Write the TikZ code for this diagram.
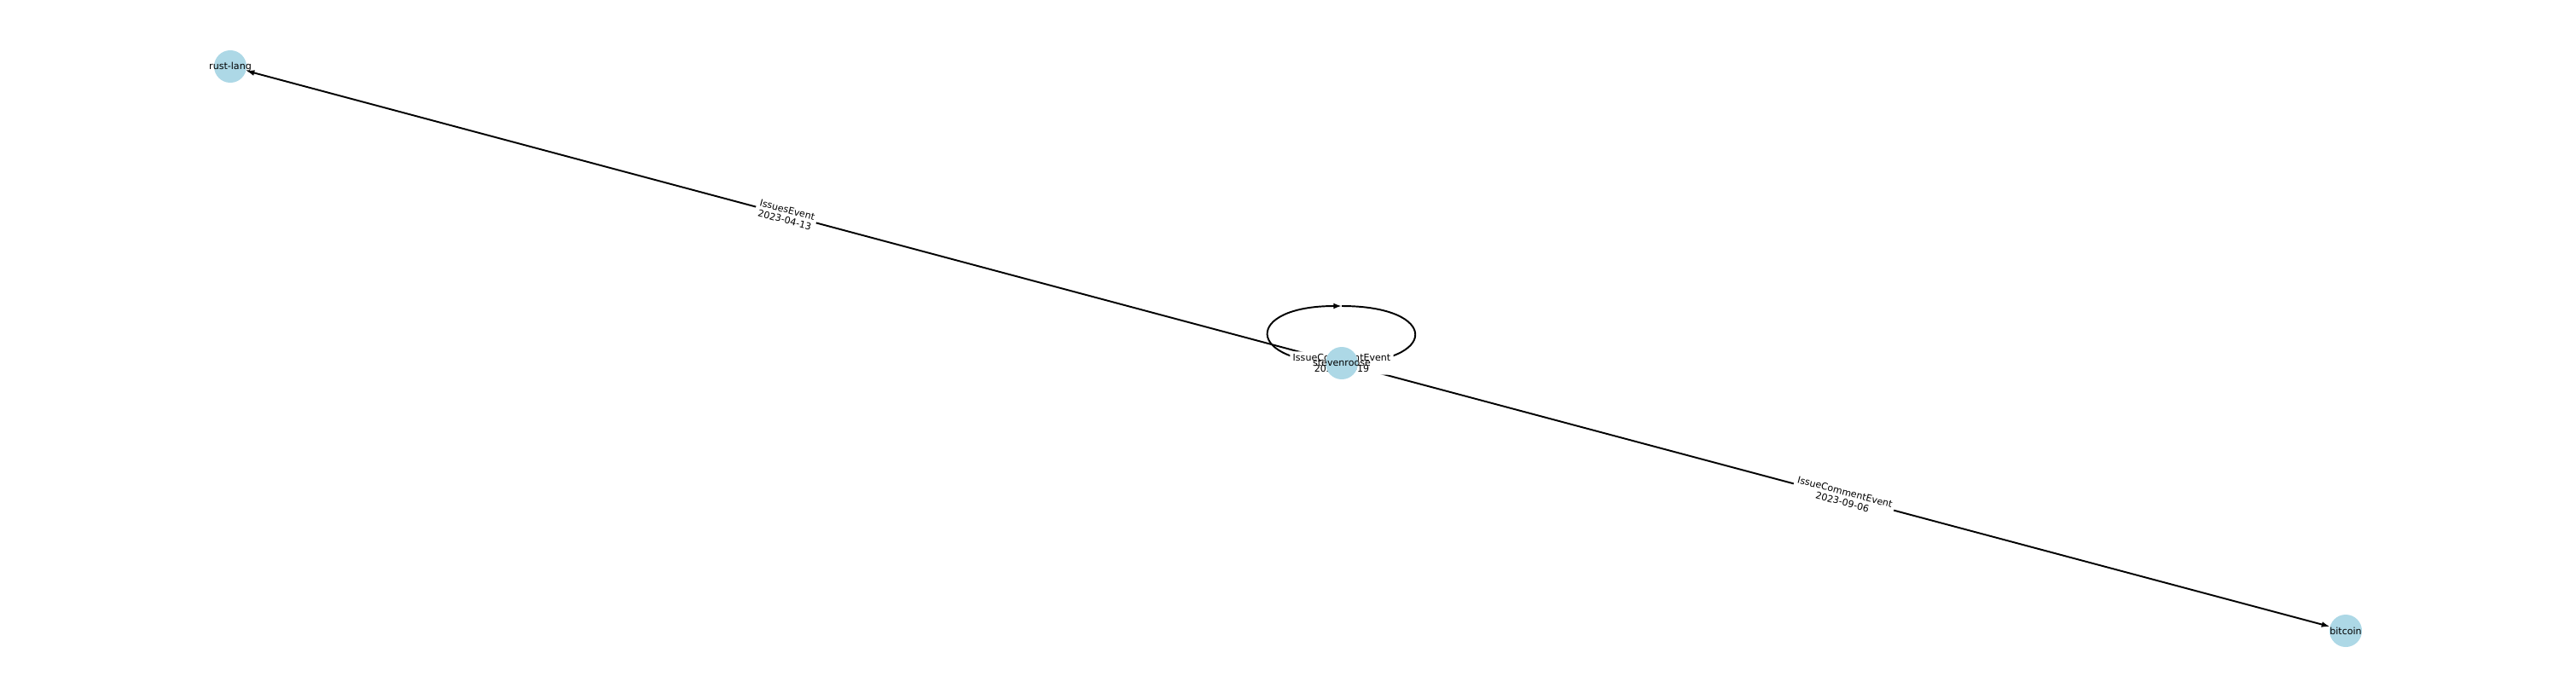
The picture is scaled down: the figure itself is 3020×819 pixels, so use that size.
\documentclass[tikz,border=0pt]{standalone}
\usepackage{fontspec}
\setmainfont{DejaVu Sans}
\usetikzlibrary{arrows.meta}
\definecolor{nodeblue}{HTML}{ADD8E6}
\pgfdeclarelayer{edges}
\pgfsetlayers{edges,main}

\begin{document}
\begin{tikzpicture}[x=0.01in, y=-0.01in,
    vertex/.style={circle, fill=nodeblue, minimum size=0.38in, inner sep=0pt, font=\fontsize{8}{9}\selectfont},
    elabel/.style={fill=white, inner sep=2.4pt, rounded corners=2pt, align=center, font=\fontsize{8}{8.8}\selectfont},
    arr/.style={-{Latex[length=7pt,width=5pt]}, line width=1.4pt}]

    \useasboundingbox (0,0) rectangle (3020,819);

    % level 0
    \node[vertex] (n0) at (1573,426) {\makebox[0pt]{stevenroose}};
    \coordinate (c0) at (1573,359);

    % level 1
    \node[vertex] (n1) at (270,78) {\makebox[0pt]{rust-lang}};
    \node[vertex] (n2) at (2750,740) {\makebox[0pt]{bitcoin}};

    \begin{pgfonlayer}{edges}
    \draw [arr] (n0) -- node[elabel, sloped] {IssuesEvent\\2023-04-13} (n1);
    \draw [arr] (n0) -- node[elabel, sloped] {IssueCommentEvent\\2023-09-06} (n2);
    \draw [arr] (c0) .. controls +(115,0) and +(115,0) .. (n0.center)
        .. controls +(-115,0) and +(-115,0) .. (c0);
    \node[elabel] (l0) at (n0) {IssueCommentEvent\\2023-09-19};
    \end{pgfonlayer}

\end{tikzpicture}
\end{document}
